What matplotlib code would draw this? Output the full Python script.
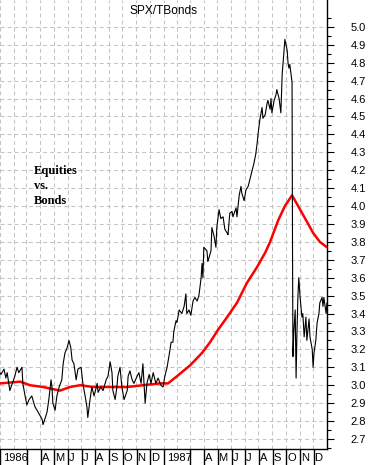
import numpy as np
import pandas as pd
import matplotlib
matplotlib.use("Agg")
import matplotlib.pyplot as plt
import matplotlib.dates as mdates
from matplotlib.ticker import FixedLocator, NullFormatter, FixedFormatter

plt.rcParams['lines.scale_dashes'] = False
plt.rcParams['font.family'] = ['Liberation Sans', 'DejaVu Sans']

# ---- data (day offsets from 1986-01-01) ----
ratio_day = [0, 2, 9, 13, 16, 22, 29, 33, 38, 42, 49, 51, 56, 60, 65, 71, 78, 85, 94, 96,
             100, 105, 109, 114, 116, 118, 123, 127, 132, 138, 141, 145, 150, 154, 158, 161,
             165, 170, 174, 181, 185, 190, 194, 196, 201, 205, 210, 217, 219, 225, 230, 237,
             241, 246, 250, 252, 257, 261, 263, 268, 272, 277, 284, 286, 290, 295, 299, 306,
             310, 315, 319, 324, 328, 333, 337, 342, 348, 353, 359, 364, 368, 373, 377, 382,
             386, 388, 393, 395, 400, 406, 411, 415, 417, 422, 426, 431, 435, 440, 444, 449,
             451, 453, 455, 462, 464, 471, 473, 478, 482, 484, 489, 493, 498, 502, 507, 509,
             513, 518, 520, 527, 529, 534, 538, 540, 545, 549, 554, 558, 563, 567, 571, 574,
             576, 580, 585, 587, 592, 596, 598, 603, 605, 607, 612, 616, 618, 623, 627, 630,
             632, 636, 641, 643, 645, 647, 652, 653, 654, 656, 659, 661, 663, 665, 667, 670,
             674, 676, 679, 683, 685, 690, 692, 697, 699, 701, 705, 708, 712, 714, 719, 721,
             723, 728, 730]
ratio_val = [3.07, 3.06, 3.09, 3.04, 3.07, 2.97, 3.02, 3.05, 3.10, 3.07, 3.10, 3.01, 2.94, 2.89,
             2.92, 2.94, 2.88, 2.85, 2.81, 2.78, 2.81, 2.85, 2.92, 3.03, 2.99, 2.90, 2.86, 2.94,
             2.99, 3.03, 3.12, 3.18, 3.21, 3.25, 3.21, 3.14, 3.12, 3.03, 3.09, 3.10, 3.01, 2.94,
             2.88, 2.82, 2.92, 2.99, 2.94, 3.01, 2.96, 2.99, 2.97, 3.03, 3.05, 3.13, 3.07, 2.97,
             2.92, 2.99, 3.05, 3.10, 2.99, 2.92, 2.97, 3.05, 3.08, 3.03, 3.01, 3.05, 3.07, 3.01,
             3.12, 2.90, 3.01, 3.06, 3.01, 3.07, 3.01, 3.04, 3.00, 2.99, 3.05, 3.10, 3.16, 3.24,
             3.24, 3.30, 3.36, 3.35, 3.42, 3.40, 3.44, 3.51, 3.40, 3.42, 3.39, 3.47, 3.49, 3.47,
             3.50, 3.60, 3.68, 3.60, 3.77, 3.75, 3.69, 3.75, 3.88, 3.83, 3.77, 3.88, 3.98, 3.93,
             3.94, 3.87, 3.85, 3.84, 3.96, 3.97, 3.94, 3.99, 3.94, 4.06, 4.11, 4.07, 4.03, 4.09,
             4.11, 4.15, 4.20, 4.24, 4.29, 4.35, 4.40, 4.48, 4.55, 4.49, 4.51, 4.57, 4.59, 4.54,
             4.60, 4.52, 4.59, 4.62, 4.65, 4.60, 4.52, 4.74, 4.80, 4.93, 4.87, 4.80, 4.77, 4.79,
             4.69, 3.77, 3.16, 3.30, 3.42, 3.04, 3.30, 3.49, 3.60, 3.49, 3.38, 3.40, 3.27, 3.38,
             3.25, 3.37, 3.27, 3.20, 3.10, 3.18, 3.25, 3.35, 3.40, 3.46, 3.49, 3.44, 3.49, 3.40,
             3.46]
avg_day = [0, 45, 67, 96, 134, 156, 179, 208, 246, 284, 319, 357, 375, 395, 424, 451, 469,
           487, 507, 529, 551, 574, 592, 603, 621, 636, 652, 670, 688, 699, 714, 730]
avg_val = [3.01, 3.02, 3.00, 2.99, 2.97, 2.99, 3.00, 2.99, 2.99, 2.99, 3.00, 3.01, 3.01, 3.05,
           3.11, 3.18, 3.24, 3.31, 3.38, 3.46, 3.57, 3.66, 3.74, 3.80, 3.92, 4.00, 4.06, 3.98,
           3.90, 3.85, 3.80, 3.77]
month_labels = ['1986', '', '', 'A', 'M', 'J', 'J', 'A', 'S', 'O', 'N', 'D',
                '1987', '', '', 'A', 'M', 'J', 'J', 'A', 'S', 'O', 'N', 'D']
ytick_vals = [round(2.7 + 0.1 * i, 1) for i in range(24)]

base = pd.Timestamp('1986-01-01')
r_dates = base + pd.to_timedelta(ratio_day, unit='D')
a_dates = base + pd.to_timedelta(avg_day, unit='D')
month_starts = pd.date_range('1986-01-01', periods=24, freq='MS')
x0, x1 = pd.Timestamp('1986-01-01'), pd.Timestamp('1988-01-01')

W, H = 372, 465
fig = plt.figure(figsize=(W / 100, H / 100), dpi=100)
fig.patch.set_facecolor('white')

ax_right = 327 / W
ax_bottom = (H - 449) / H
ax = fig.add_axes([0.0, ax_bottom, ax_right, 1 - ax_bottom])
ax.set_xlim(x0, x1)
ax.set_ylim(2.644, 5.15)

grid_kw = dict(color='#c4c4c4', linewidth=0.75, linestyle=(0, (2.9, 2.2)))
ax.set_xticks(month_starts)
ax.xaxis.set_major_formatter(NullFormatter())
ax.tick_params(axis='x', length=0)
ax.grid(True, axis='both', which='major', **grid_kw)
ax.set_axisbelow(True)

ax.yaxis.tick_right()
ax.yaxis.set_major_locator(FixedLocator(ytick_vals))
ax.yaxis.set_major_formatter(FixedFormatter([f'{v:.1f}' for v in ytick_vals]))
minor = [round(2.65 + 0.1 * i, 2) for i in range(25)]
ax.yaxis.set_minor_locator(FixedLocator(minor))
ax.tick_params(axis='y', which='major', length=5.2, width=0.8, pad=12, labelsize=8, colors='black')
ax.tick_params(axis='y', which='minor', length=2.8, width=0.8)

for s in ['left', 'top']:
    ax.spines[s].set_visible(False)
ax.spines['right'].set_linewidth(1.0)
ax.spines['bottom'].set_linewidth(1.0)

ax.plot(a_dates, avg_val, color='#ff0000', linewidth=1.8, zorder=3)
ax.plot(r_dates, ratio_val, color='black', linewidth=0.8, zorder=4)

ax.text(0.5, 1 - 14 / 449, 'SPX/TBonds', transform=ax.transAxes, ha='center', va='baseline',
        fontsize=8.6, color='black')

serif = dict(family=['Liberation Serif', 'DejaVu Serif'], fontweight='bold', fontsize=9,
             color='black', ha='left', va='baseline')
fig.text(34 / W, 1 - 174 / H, 'Equities', **serif)
fig.text(34 / W, 1 - 189 / H, 'vs.', **serif)
fig.text(34 / W, 1 - 204 / H, 'Bonds', **serif)

# month label row
axl = fig.add_axes([0.0, 0.0, ax_right, ax_bottom])
axl.set_xlim(x0, x1)
axl.set_ylim(0, 1)
axl.axis('off')
for i, (ms, lab) in enumerate(zip(month_starts, month_labels)):
    if not (ms.month == 2):
        axl.axvline(ms + pd.Timedelta(days=1), color='black', linewidth=1.0)
    if lab:
        off = 8 if lab in ('1986', '1987') else 3
        axl.text(ms + pd.Timedelta(days=off), 0.45, lab, ha='left', va='center', fontsize=8,
                 color='black')

fig.savefig('out.png', dpi=100, facecolor='white')
